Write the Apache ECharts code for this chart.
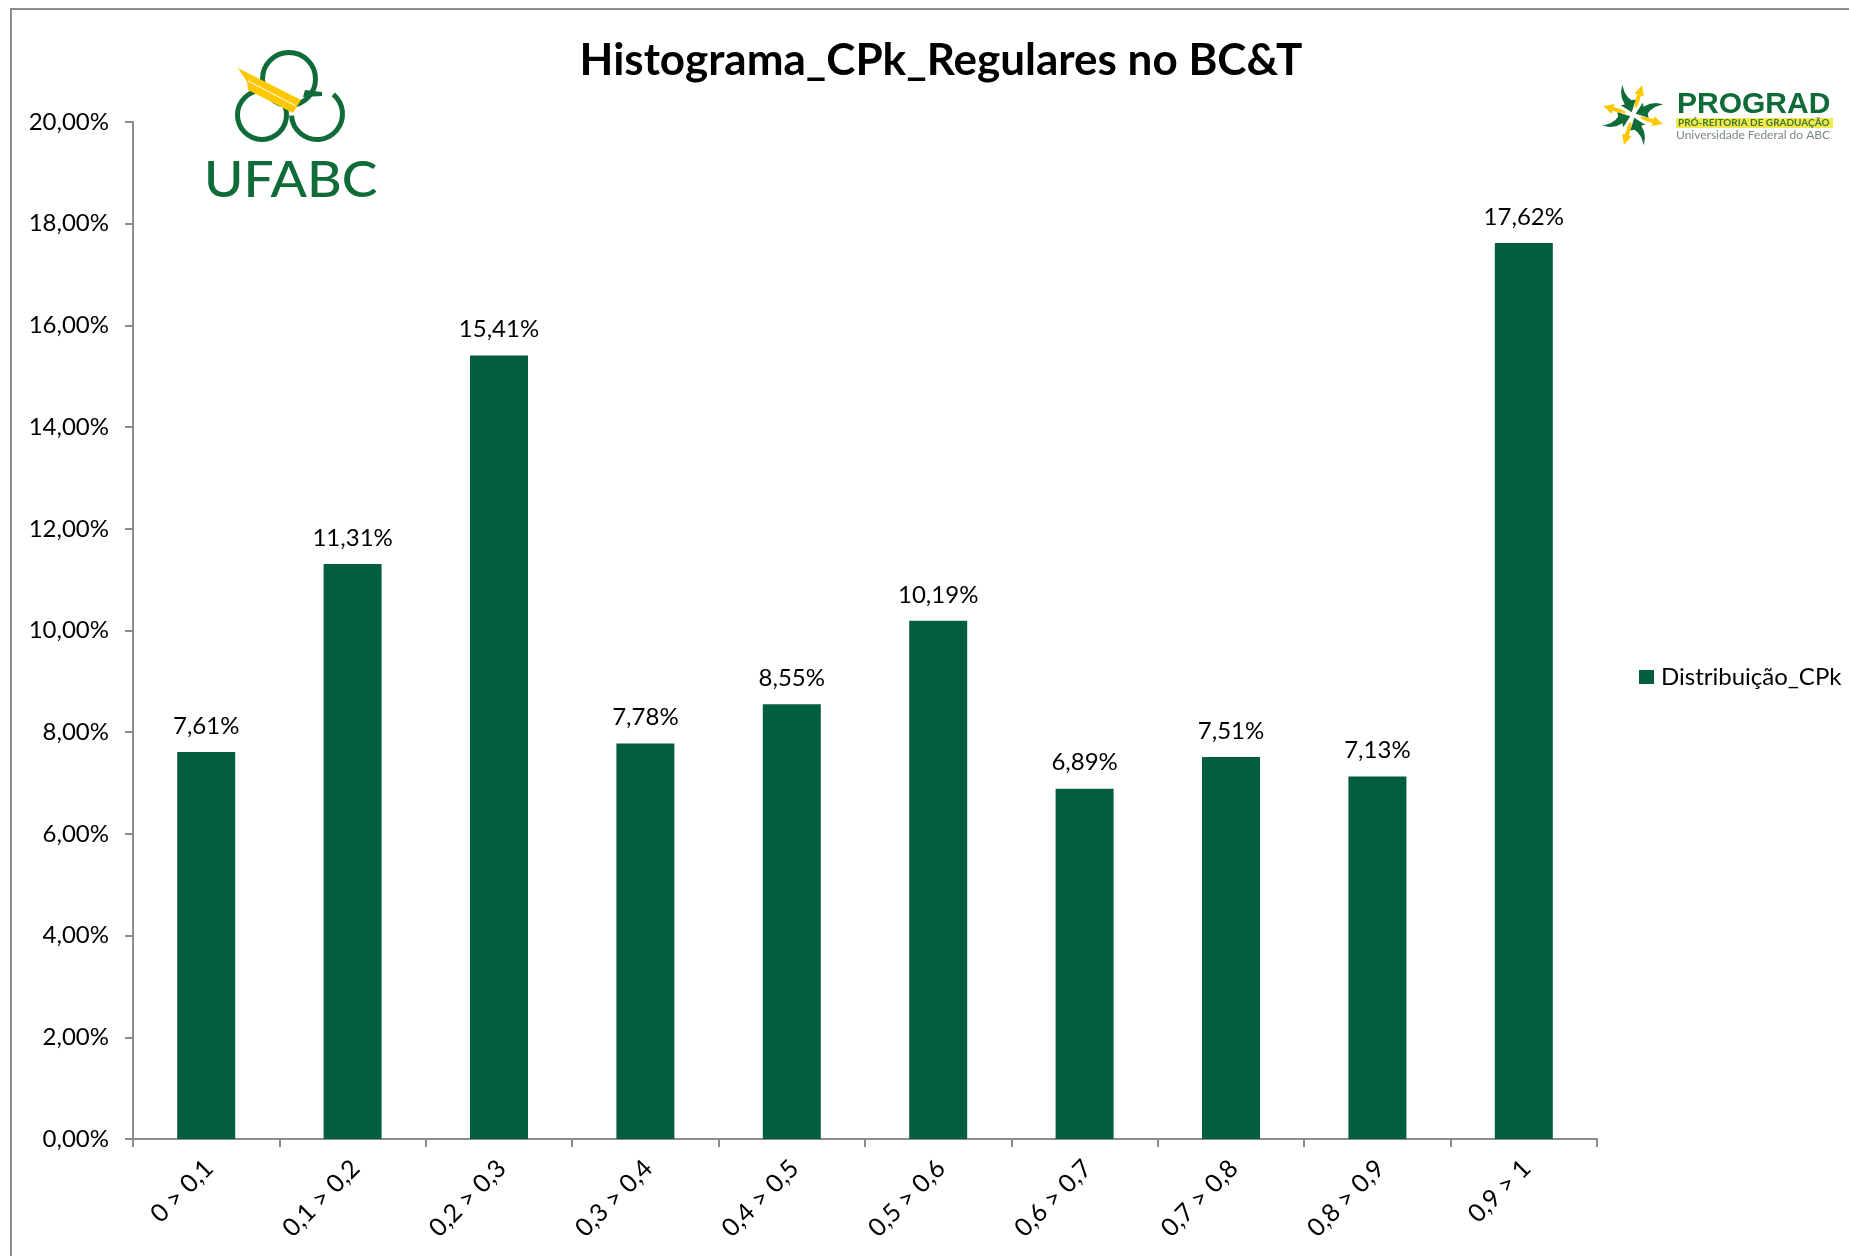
<!DOCTYPE html>
<html>
<head>
<meta charset="utf-8">
<title>Histograma_CPk_Regulares no BC&amp;T</title>
<script src="https://cdn.jsdelivr.net/npm/echarts@6/dist/echarts.min.js"></script>
<style>
html, body { margin: 0; padding: 0; background: #fff; }
#main { width: 1849px; height: 1256px; }
</style>
</head>
<body>
<div id="main"></div>
<script>
var categories = ["0 > 0,1", "0,1 > 0,2", "0,2 > 0,3", "0,3 > 0,4", "0,4 > 0,5", "0,5 > 0,6", "0,6 > 0,7", "0,7 > 0,8", "0,8 > 0,9", "0,9 > 1"];
var distribuicao = [7.61, 11.31, 15.41, 7.78, 8.55, 10.19, 6.89, 7.51, 7.13, 17.62];

var FONT = "Lato";
var GREEN = "#035e3e";
var LOGO_GREEN = "#0f6b38";
var YELLOW = "#fdc800";
var AXIS_GRAY = "#8c8c8c";

function pct(v) {
  return v.toFixed(2).replace(".", ",") + "%";
}

function ring(cx, cy, r, start, end) {
  return {
    type: "arc",
    shape: { cx: cx, cy: cy, r: r, startAngle: start, endAngle: end },
    style: { stroke: LOGO_GREEN, lineWidth: 5, fill: null },
    silent: true
  };
}

function poly(points, fill) {
  return { type: "polygon", shape: { points: points }, style: { fill: fill }, silent: true };
}

// pinwheel of the PROGRAD mark, blades turned around its centre
function blade(deg, fill, points) {
  return {
    type: "polygon",
    x: 1633, y: 115,
    rotation: deg * Math.PI / 180,
    shape: { points: points },
    style: { fill: fill },
    silent: true
  };
}
var GREEN_BLADE = [[3, 0], [14, -7], [13, -3], [20, -3], [26, -1], [32, 3], [24, 2], [18, 3], [14, 5], [13, 9]];
var YELLOW_BLADE = [[8, -1], [14, -2], [21, -2], [21, -5], [31, 0], [21, 5], [21, 2], [14, 2], [8, 1]];

var logos = [
  ring(289, 79, 26.5, 0, Math.PI * 2),
  ring(262, 115, 24.5, 0, Math.PI * 2),
  ring(317, 114, 25.5, Math.PI * 1.72, Math.PI * 0.98),
  poly([[305, 90], [322, 92], [322, 96], [303, 97]], LOGO_GREEN),
  poly([[238, 68], [301, 100], [293, 113], [248, 90], [247, 82]], YELLOW),
  { type: "line", shape: { x1: 248, y1: 81, x2: 296, y2: 106 }, style: { stroke: "#fff", lineWidth: 1 }, silent: true },
  {
    type: "text", x: 204, y: 181, scaleX: 1.07,
    style: { text: "UFABC", font: "500 50px Lato", fill: LOGO_GREEN, verticalAlign: "middle" },
    silent: true
  },
  blade(-17, YELLOW, YELLOW_BLADE), blade(-107, YELLOW, YELLOW_BLADE), blade(-197, YELLOW, YELLOW_BLADE), blade(-287, YELLOW, YELLOW_BLADE),
  blade(25, LOGO_GREEN, GREEN_BLADE), blade(-65, LOGO_GREEN, GREEN_BLADE), blade(-155, LOGO_GREEN, GREEN_BLADE), blade(-245, LOGO_GREEN, GREEN_BLADE),
  {
    type: "text", left: 1677, top: 90,
    style: { text: "PROGRAD", font: "700 30px 'Liberation Sans'", fill: LOGO_GREEN },
    silent: true
  },
  { type: "rect", shape: { x: 1676, y: 118, width: 157, height: 10 }, style: { fill: "#f4e84a" }, silent: true },
  {
    type: "text", left: 1678, top: 118,
    style: { text: "PRÓ-REITORIA DE GRADUAÇÃO", font: "700 10px Lato", fill: "#3c7a3c" },
    silent: true
  },
  {
    type: "text", left: 1676, top: 129,
    style: { text: "Universidade Federal do ABC", font: "400 12px Lato", fill: "#7a8a80" },
    silent: true
  },
  // outer frame of the chart area, only left and top are in the picture
  {
    type: "polyline",
    shape: { points: [[11, 1256], [11, 9], [1849, 9]] },
    style: { stroke: AXIS_GRAY, lineWidth: 2, fill: null },
    silent: true
  }
];

var chart = echarts.init(document.getElementById("main"));

chart.setOption({
  animation: false,
  backgroundColor: "#ffffff",
  textStyle: { fontFamily: FONT },
  title: {
    text: "Histograma_CPk_Regulares no BC&T",
    left: 936,
    top: 34,
    textAlign: "center",
    textStyle: { fontFamily: FONT, fontSize: 44, fontWeight: "bold", color: "#000" }
  },
  legend: {
    data: [{ name: "Distribuição_CPk", icon: "rect" }],
    left: 1639,
    top: 665,
    padding: 0,
    itemWidth: 15,
    itemHeight: 14,
    itemGap: 0,
    textStyle: { fontFamily: FONT, fontSize: 24, color: "#000", padding: [0, 0, 0, 2] }
  },
  grid: { left: 133, right: 252, top: 122, bottom: 117, containLabel: false },
  xAxis: {
    type: "category",
    data: categories,
    axisLine: { lineStyle: { color: AXIS_GRAY, width: 2 } },
    axisTick: { show: true, length: 8, alignWithLabel: false, lineStyle: { color: AXIS_GRAY, width: 2 } },
    axisLabel: { interval: 0, rotate: 45, margin: 28, fontSize: 25, color: "#000", fontFamily: FONT, padding: [0, -4, 0, 0] }
  },
  yAxis: {
    type: "value",
    min: 0,
    max: 20,
    interval: 2,
    splitLine: { show: false },
    axisLine: { show: true, lineStyle: { color: AXIS_GRAY, width: 2 } },
    axisTick: { show: true, length: 8, lineStyle: { color: AXIS_GRAY, width: 2 } },
    axisLabel: { margin: 24, fontSize: 24, color: "#000", fontFamily: FONT, formatter: pct }
  },
  series: [
    {
      name: "Distribuição_CPk",
      type: "bar",
      data: distribuicao,
      barWidth: 58,
      itemStyle: { color: GREEN },
      label: {
        show: true,
        position: "top",
        distance: 14,
        fontSize: 24,
        color: "#000",
        fontFamily: FONT,
        formatter: function (p) { return pct(p.value); }
      }
    }
  ],
  graphic: logos
});
</script>
</body>
</html>
